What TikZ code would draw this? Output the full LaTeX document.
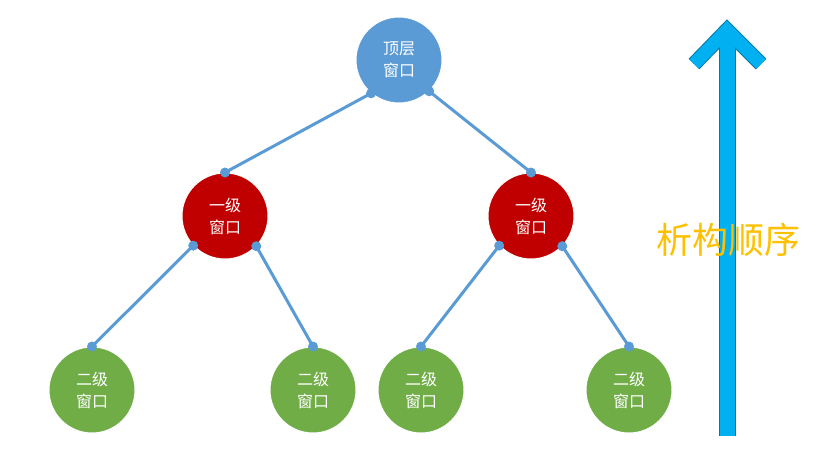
\documentclass[tikz,border=0pt]{standalone}
\usepackage{fontspec}
\setmainfont{Noto Sans CJK SC}
\begin{document}
\begin{tikzpicture}[x=1pt,y=-1pt,
  win/.style={circle,minimum size=86pt,inner sep=0pt,text=white,font=\fontsize{16}{22}\selectfont,align=center,draw=white,line width=1pt},
  link/.style={draw=linkc,line width=3pt},
  dot/.style={circle,fill=linkc,inner sep=0pt,minimum size=10pt}]
\definecolor{linkc}{HTML}{5B9BD5}
\definecolor{topc}{HTML}{5B9BD5}
\definecolor{redc}{HTML}{C00000}
\definecolor{greenc}{HTML}{70AD47}
\definecolor{arrc}{HTML}{00B0F0}
\definecolor{txtc}{HTML}{FFC000}
\useasboundingbox (0,0) rectangle (831,453);
\node[win,fill=topc] (t) at (399,60) {顶层\\窗口};
\node[win,fill=redc] (a) at (225,216) {一级\\窗口};
\node[win,fill=redc] (b) at (531,216) {一级\\窗口};
\node[win,fill=greenc] (c) at (92,390) {二级\\窗口};
\node[win,fill=greenc] (d) at (313,390) {二级\\窗口};
\node[win,fill=greenc] (e) at (421,390) {二级\\窗口};
\node[win,fill=greenc] (f) at (629,390) {二级\\窗口};
\foreach \s/\sa/\e in {t/230/a,t/314/b,a/223/c,a/316/d,b/223/e,b/316/f}{
  \draw[link] (\s.\sa) -- (\e.90);
  \node[dot] at (\s.\sa) {};
  \node[dot] at (\e.90) {};
}
\coordinate (tail) at (727,436);
\coordinate (tip) at (727,30);
\coordinate (hl) at (694,64);
\coordinate (hr) at (761,64);
\draw[draw=arrc!70!black,line width=17pt] (tail) -- (727,36);
\draw[draw=arrc!70!black,line width=15pt,line join=miter] (hl) -- (tip) -- (hr);
\draw[draw=arrc,line width=15pt] (tail) -- (727,36);
\draw[draw=arrc,line width=13pt,line join=miter] (hl) -- (tip) -- (hr);
\node[text=txtc,font=\fontsize{36}{40}\selectfont] (lbl) at (728,240) {析构顺序};
\end{tikzpicture}
\end{document}
